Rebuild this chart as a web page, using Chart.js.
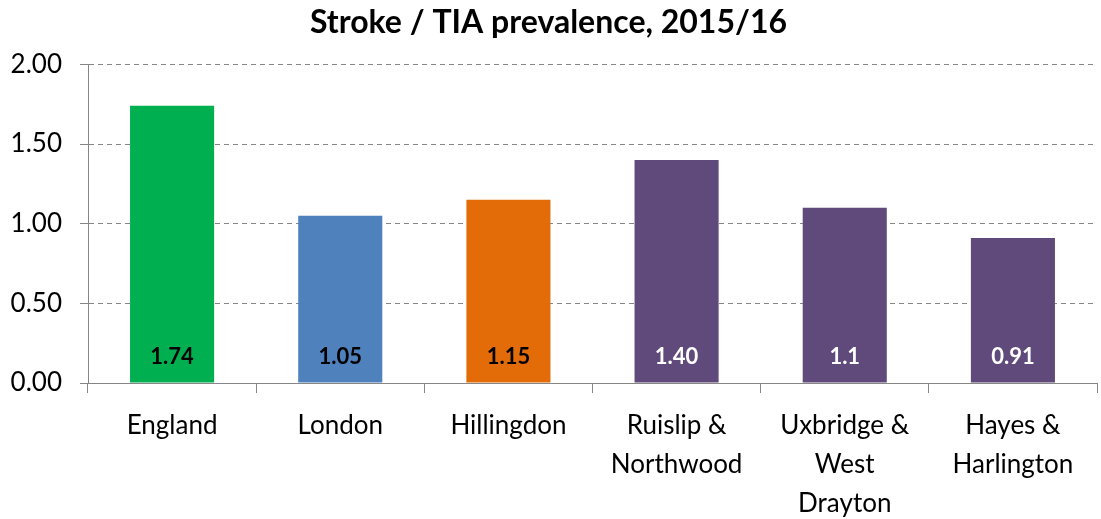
<!DOCTYPE html>
<html>
<head>
<meta charset="utf-8">
<script src="https://cdn.jsdelivr.net/npm/chart.js@4.4.1/dist/chart.umd.min.js"></script>
<style>
html,body{margin:0;padding:0;background:#fff;}
#wrap{width:1101px;height:519px;position:relative;}
</style>
</head>
<body>
<div id="wrap"><canvas id="c"></canvas></div>
<script>
const categories = [["England"], ["London"], ["Hillingdon"], ["Ruislip &", "Northwood"], ["Uxbridge &", "West", "Drayton"], ["Hayes &", "Harlington"]];
const values = [1.74, 1.05, 1.15, 1.40, 1.10, 0.91];
const valueLabels = ["1.74", "1.05", "1.15", "1.40", "1.1", "0.91"];
const barColors = ["#00B050", "#4F81BD", "#E36C09", "#604A7B", "#604A7B", "#604A7B"];
const labelColors = ["#000000", "#000000", "#000000", "#FFFFFF", "#FFFFFF", "#FFFFFF"];
const yTicks = [0, 0.5, 1.0, 1.5, 2.0];

const FONT = "Lato, 'Open Sans', sans-serif";

const barLabelPlugin = {
  id: 'barLabels',
  afterDatasetsDraw(chart) {
    const ctx = chart.ctx;
    const meta = chart.getDatasetMeta(0);
    const yScale = chart.scales.y;
    ctx.save();
    ctx.font = "bold 22px " + FONT;
    ctx.textAlign = 'center';
    ctx.textBaseline = 'middle';
    meta.data.forEach((bar, i) => {
      ctx.fillStyle = labelColors[i];
      ctx.fillText(valueLabels[i], bar.x, yScale.getPixelForValue(0) - 26);
    });
    ctx.restore();
  }
};

new Chart(document.getElementById('c'), {
  type: 'bar',
  data: {
    labels: categories,
    datasets: [{
      data: values,
      backgroundColor: barColors,
      borderWidth: 0,
      categoryPercentage: 1.0,
      barPercentage: 0.5
    }]
  },
  options: {
    responsive: true,
    maintainAspectRatio: false,
    animation: false,
    layout: { padding: { left: 0, right: 4, top: 3, bottom: 0 } },
    plugins: {
      legend: { display: false },
      tooltip: { enabled: false },
      title: {
        display: true,
        text: 'Stroke / TIA prevalence, 2015/16',
        color: '#000',
        font: { family: FONT, size: 32, weight: 'bold' },
        padding: { top: 0, bottom: 23 }
      }
    },
    scales: {
      x: {
        offset: true,
        grid: {
          offset: true,
          drawOnChartArea: false,
          drawTicks: true,
          tickLength: 10,
          color: '#868686',
          lineWidth: 1
        },
        border: { display: true, color: '#868686', width: 1 },
        ticks: {
          color: '#000',
          font: { family: FONT, size: 26, lineHeight: 1.5 },
          padding: 13,
          maxRotation: 0,
          autoSkip: false
        },
        afterFit(scale) { scale.height = 136; }
      },
      y: {
        min: 0,
        max: 2,
        afterBuildTicks(scale) { scale.ticks = yTicks.map(v => ({ value: v })); },
        grid: {
          color: '#868686',
          lineWidth: 1,
          drawTicks: true,
          tickLength: 8,
          tickBorderDash: [],
          tickColor: '#868686'
        },
        border: { display: true, color: '#868686', width: 1, dash: [5, 4] },
        ticks: {
          color: '#000',
          font: { family: FONT, size: 26 },
          padding: 18,
          callback: v => Number(v).toFixed(2)
        },
        afterFit(scale) { scale.width = 88; }
      }
    }
  },
  plugins: [barLabelPlugin]
});
</script>
</body>
</html>
